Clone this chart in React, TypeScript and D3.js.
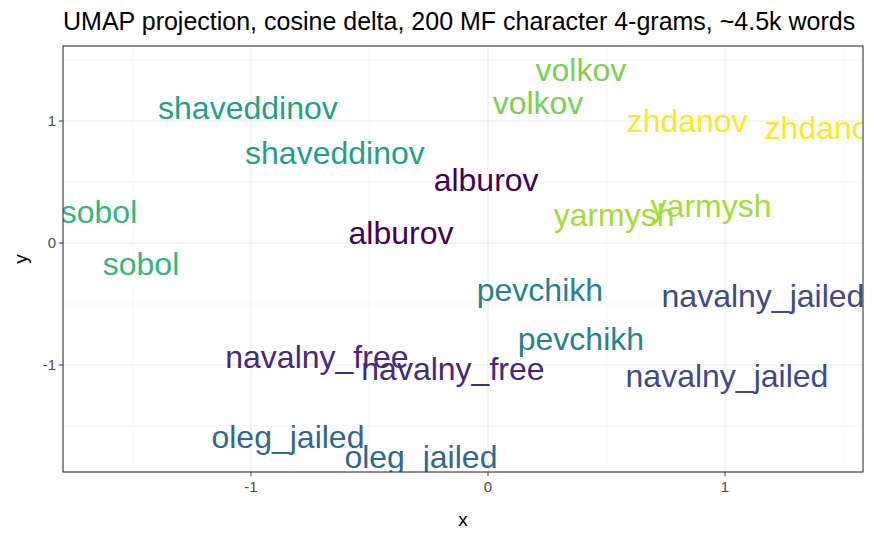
import * as d3 from "d3";

const labels = ["volkov", "volkov", "zhdanov", "zhdanov", "shaveddinov", "shaveddinov", "alburov", "alburov", "sobol", "sobol", "yarmysh", "yarmysh", "pevchikh", "pevchikh", "navalny_jailed", "navalny_jailed", "navalny_free", "navalny_free", "oleg_jailed", "oleg_jailed"];
const xs = [0.392, 0.211, 0.84, 1.422, -1.013, -0.646, -0.008, -0.367, -1.641, -1.464, 0.532, 0.941, 0.219, 0.392, 1.16, 1.008, -0.722, -0.148, -0.844, -0.283];
const ys = [1.418, 1.148, 1.0, 0.943, 1.107, 0.738, 0.516, 0.082, 0.254, -0.172, 0.23, 0.303, -0.385, -0.787, -0.434, -1.09, -0.934, -1.033, -1.59, -1.754];
const authorColors: Record<string, string> = {
  volkov: "#7AD151", zhdanov: "#FDE725", shaveddinov: "#1FA187", alburov: "#440154",
  sobol: "#35B779", yarmysh: "#A5DB36", pevchikh: "#26828E", navalny_jailed: "#3E4A89",
  navalny_free: "#482878", oleg_jailed: "#31688E",
};
const xTicks = [-1, 0, 1];
const yTicks = [-1, 0, 1];
const minorTicks = [-1.5, -0.5, 0.5, 1.5];

export default function App() {
  const W = 874, H = 540;
  const m = { l: 63, r: 11, t: 46, b: 68 };
  const x = d3.scaleLinear().domain([-1.793, 1.582]).range([m.l, W - m.r]);
  const y = d3.scaleLinear().domain([-1.877, 1.615]).range([H - m.b, m.t]);
  const font = "Liberation Sans, Arial, sans-serif";
  return (
    <svg width={W} height={H} style={{ position: "absolute", left: 0, top: 0 }} fontFamily={font}>
      <rect width={W} height={H} fill="white" />
      <defs>
        <clipPath id="p"><rect x={m.l} y={m.t} width={W - m.l - m.r} height={H - m.t - m.b} /></clipPath>
      </defs>
      {minorTicks.map(t => (
        <g key={"m" + t}>
          <line x1={x(t)} x2={x(t)} y1={m.t} y2={H - m.b} stroke="#F2F2F2" strokeWidth={0.6} />
          <line x1={m.l} x2={W - m.r} y1={y(t)} y2={y(t)} stroke="#F2F2F2" strokeWidth={0.6} />
        </g>
      ))}
      {xTicks.map(t => <line key={"x" + t} x1={x(t)} x2={x(t)} y1={m.t} y2={H - m.b} stroke="#EBEBEB" strokeWidth={1.1} />)}
      {yTicks.map(t => <line key={"y" + t} x1={m.l} x2={W - m.r} y1={y(t)} y2={y(t)} stroke="#EBEBEB" strokeWidth={1.1} />)}
      <g clipPath="url(#p)">
        {labels.map((l, i) => (
          <text key={i} x={x(xs[i])} y={y(ys[i])} dy="0.35em" textAnchor="middle" fontSize={32} fill={authorColors[l]}>{l}</text>
        ))}
      </g>
      <rect x={m.l} y={m.t} width={W - m.l - m.r} height={H - m.t - m.b} fill="none" stroke="#333333" strokeWidth={1.1} />
      {xTicks.map(t => (
        <g key={"xt" + t}>
          <line x1={x(t)} x2={x(t)} y1={H - m.b} y2={H - m.b + 4} stroke="#333" />
          <text x={x(t)} y={H - m.b + 20} textAnchor="middle" fontSize={15} fill="#4D4D4D">{t}</text>
        </g>
      ))}
      {yTicks.map(t => (
        <g key={"yt" + t}>
          <line x1={m.l - 4} x2={m.l} y1={y(t)} y2={y(t)} stroke="#333" />
          <text x={m.l - 7} y={y(t)} dy="0.35em" textAnchor="end" fontSize={15} fill="#4D4D4D">{t}</text>
        </g>
      ))}
      <text x={(m.l + W - m.r) / 2} y={H - 14} textAnchor="middle" fontSize={19}>x</text>
      <text transform={`translate(27,${(m.t + H - m.b) / 2}) rotate(-90)`} textAnchor="middle" fontSize={19}>y</text>
      <text x={m.l} y={30} fontSize={25}>UMAP projection, cosine delta, 200 MF character 4-grams, ~4.5k words</text>
    </svg>
  );
}
